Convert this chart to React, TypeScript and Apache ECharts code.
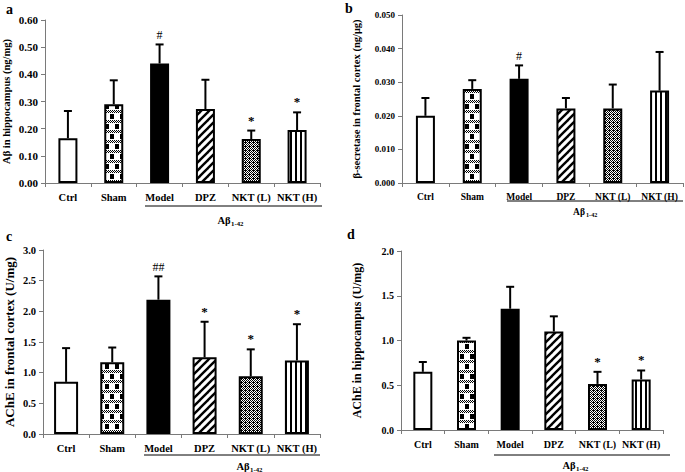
import React, { useEffect, useRef } from "react";
import * as echarts from "echarts";

const categories = ["Ctrl", "Sham", "Model", "DPZ", "NKT (L)", "NKT (H)"];

// Panel a: Aβ in hippocampus (ng/mg)
const abetaMean = [0.165, 0.29, 0.44, 0.272, 0.162, 0.195];
const abetaUpper = [0.265, 0.378, 0.51, 0.38, 0.193, 0.26];
const abetaMarks = ["", "", "#", "", "*", "*"];

// Panel b: β-secretase in frontal cortex (ng/μg)
const bsecMean = [0.02, 0.028, 0.031, 0.0222, 0.0222, 0.0275];
const bsecUpper = [0.0253, 0.0306, 0.035, 0.0253, 0.0293, 0.039];
const bsecMarks = ["", "", "#", "", "", ""];

// Panel c: AChE in frontal cortex (U/mg)
const acheFcMean = [0.85, 1.17, 2.19, 1.25, 0.94, 1.2];
const acheFcUpper = [1.4, 1.41, 2.57, 1.83, 1.38, 1.79];
const acheFcMarks = ["", "", "##", "*", "*", "*"];

// Panel d: AChE in hippocampus (U/mg)
const acheHpMean = [0.65, 1.0, 1.355, 1.1, 0.515, 0.565];
const acheHpUpper = [0.76, 1.03, 1.6, 1.27, 0.65, 0.665];
const acheHpMarks = ["", "", "", "", "*", "*"];

const SERIF = "'Liberation Serif', 'Times New Roman', serif";

function makeCanvas(w: number, h: number, draw: (ctx: CanvasRenderingContext2D) => void) {
  const c = document.createElement("canvas");
  c.width = w;
  c.height = h;
  const ctx = c.getContext("2d")!;
  ctx.fillStyle = "#fff";
  ctx.fillRect(0, 0, w, h);
  ctx.fillStyle = "#000";
  ctx.strokeStyle = "#000";
  draw(ctx);
  return c;
}

function buildPatterns() {
  const sham = makeCanvas(10, 20, (ctx) => {
    for (let y = 0; y < 20; y++) {
      for (let x = 0; x < 10; x++) {
        const band = y % 10 < 3;
        if (band) {
          if ((x + y) % 2 === 0) ctx.fillRect(x, y, 1, 1);
        } else {
          const row = Math.floor(y / 10);
          const inSq = row === 0 ? x >= 5 && x <= 8 && y % 10 >= 4 && y % 10 <= 8 : x >= 0 && x <= 3 && y % 10 >= 4 && y % 10 <= 8;
          if (inSq) ctx.fillRect(x, y, 1, 1);
        }
      }
    }
  });
  const dpz = makeCanvas(8, 8, (ctx) => {
    ctx.lineWidth = 2.4;
    for (const o of [-8, 0, 8]) {
      ctx.beginPath();
      ctx.moveTo(o - 1, 9);
      ctx.lineTo(o + 9, -1);
      ctx.stroke();
    }
  });
  const nktL = makeCanvas(4, 4, (ctx) => {
    for (let y = 0; y < 4; y++) {
      for (let x = 0; x < 4; x++) {
        if ((x + y) % 2 === 0 || (x === 1 && y === 2)) ctx.fillRect(x, y, 1, 1);
      }
    }
  });
  const nktH = makeCanvas(5, 4, (ctx) => {
    ctx.fillRect(0, 0, 2, 4);
  });
  return [
    "#ffffff",
    { image: sham, repeat: "repeat" },
    "#000000",
    { image: dpz, repeat: "repeat" },
    { image: nktL, repeat: "repeat" },
    { image: nktH, repeat: "repeat" },
  ];
}

type Panel = {
  mean: number[];
  upper: number[];
  marks: string[];
  max: number;
  interval: number;
  digits: number;
  name: string;
  grid: { left: number; top: number; width: number; height: number };
  barWidth: number;
  nameGap: number;
  nameFont: number;
  tickFont: number;
  catFont: number;
};

const panels: Panel[] = [
  {
    mean: abetaMean, upper: abetaUpper, marks: abetaMarks, max: 0.6, interval: 0.1, digits: 2,
    name: "Aβ in hippocampus (ng/mg)",
    grid: { left: 43, top: 20, width: 277, height: 163 }, barWidth: 19,
    nameGap: 33, nameFont: 10.5, tickFont: 11, catFont: 10.5,
  },
  {
    mean: bsecMean, upper: bsecUpper, marks: bsecMarks, max: 0.05, interval: 0.01, digits: 3,
    name: "β-secretase in frontal cortex (ng/μg)",
    grid: { left: 402, top: 15, width: 281, height: 168 }, barWidth: 19,
    nameGap: 40, nameFont: 10.5, tickFont: 9, catFont: 9.5,
  },
  {
    mean: acheFcMean, upper: acheFcUpper, marks: acheFcMarks, max: 3.0, interval: 0.5, digits: 1,
    name: "AChE in frontal cortex (U/mg)",
    grid: { left: 43, top: 250, width: 277, height: 184 }, barWidth: 24,
    nameGap: 27, nameFont: 13, tickFont: 10.5, catFont: 10.5,
  },
  {
    mean: acheHpMean, upper: acheHpUpper, marks: acheHpMarks, max: 2.0, interval: 0.5, digits: 1,
    name: "AChE in hippocampus (U/mg)",
    grid: { left: 401, top: 251, width: 262, height: 179 }, barWidth: 19,
    nameGap: 38, nameFont: 12, tickFont: 10, catFont: 10,
  },
];

export default function App() {
  const ref = useRef<HTMLDivElement>(null);
  useEffect(() => {
    if (!ref.current) return;
    const chart = echarts.init(ref.current, undefined, { renderer: "svg" });
    const fills = buildPatterns();
    const axisGray = "#7a7a7a";

    const grid: any[] = [];
    const xAxis: any[] = [];
    const yAxis: any[] = [];
    const series: any[] = [];

    panels.forEach((p, i) => {
      grid.push({ ...p.grid, containLabel: false });
      xAxis.push({
        type: "category",
        gridIndex: i,
        data: categories,
        axisLine: { lineStyle: { color: axisGray, width: 1 } },
        axisTick: { show: true, interval: 0, length: 4, lineStyle: { color: axisGray } },
        axisLabel: { interval: 0, color: "#000", fontFamily: SERIF, fontWeight: "bold", fontSize: p.catFont, margin: 9 },
      });
      yAxis.push({
        type: "value",
        gridIndex: i,
        min: 0,
        max: p.max,
        interval: p.interval,
        name: p.name,
        nameLocation: "middle",
        nameRotate: 90,
        nameGap: p.nameGap,
        nameTextStyle: { color: "#000", fontFamily: SERIF, fontWeight: "bold", fontSize: p.nameFont },
        splitLine: { show: false },
        axisLine: { show: true, lineStyle: { color: axisGray, width: 1 } },
        axisTick: { show: true, length: 4, lineStyle: { color: axisGray } },
        axisLabel: {
          color: "#000", fontFamily: SERIF, fontWeight: "bold", fontSize: p.tickFont, margin: 7,
          formatter: (v: number) => v.toFixed(p.digits),
        },
      });
      series.push({
        type: "bar",
        xAxisIndex: i,
        yAxisIndex: i,
        barWidth: p.barWidth,
        data: p.mean.map((v, k) => ({
          value: v,
          itemStyle: { color: fills[k] as any, borderColor: "#000", borderWidth: 2 },
        })),
      });
      const marks = p.marks;
      series.push({
        type: "custom",
        xAxisIndex: i,
        yAxisIndex: i,
        z: 5,
        data: p.mean.map((v, k) => [k, v, p.upper[k]]),
        encode: { x: 0, y: [1, 2] },
        renderItem: (params: any, api: any) => {
          const base = api.coord([api.value(0), api.value(1)]);
          const top = api.coord([api.value(0), api.value(2)]);
          const x = base[0];
          const children: any[] = [
            { type: "line", shape: { x1: x, y1: base[1], x2: x, y2: top[1] }, style: { stroke: "#000", lineWidth: 2 } },
            { type: "line", shape: { x1: x - 4, y1: top[1], x2: x + 4, y2: top[1] }, style: { stroke: "#000", lineWidth: 2 } },
          ];
          const m = marks[params.dataIndex];
          if (m) {
            const hash = m.startsWith("#");
            children.push({
              type: "text",
              style: {
                text: m, x, y: top[1] - (hash ? 3 : 4),
                align: "center", verticalAlign: "bottom",
                fill: "#000", font: `${hash ? "normal" : "bold"} ${hash ? 12 : 13}px ${SERIF}`,
              },
            });
          }
          return { type: "group", children };
        },
      });
    });

    const letter = (t: string, x: number, y: number) => ({
      type: "text", left: x, top: y,
      style: { text: t, fill: "#000", font: `bold 14px ${SERIF}` },
    });
    const underline = (x1: number, x2: number, y: number) => ({
      type: "line", shape: { x1, y1: y, x2, y2: y }, style: { stroke: "#000", lineWidth: 1 },
    });
    const abLabel = (cx: number, y: number, fs: number) => ({
      type: "group",
      children: [
        { type: "text", x: cx - 8, y, style: { text: "Aβ", fill: "#000", font: `bold ${fs}px ${SERIF}`, align: "center", verticalAlign: "middle" } },
        { type: "text", x: cx - 1, y: y + 3, style: { text: "1-42", fill: "#000", font: `bold ${fs * 0.65}px ${SERIF}`, align: "left", verticalAlign: "middle" } },
      ],
    });

    chart.setOption({
      animation: false,
      backgroundColor: "#fff",
      grid,
      xAxis,
      yAxis,
      series,
      graphic: [
        letter("a", 6, 2),
        letter("b", 345, 1),
        letter("c", 6, 229),
        letter("d", 347, 227),
        underline(145, 322, 206),
        underline(507, 683, 201),
        underline(144, 320, 455),
        underline(494, 670, 455),
        abLabel(232, 220, 10.5),
        abLabel(587, 212, 9.5),
        abLabel(251, 466, 10.5),
        abLabel(577, 465, 10.5),
      ],
    });
    return () => chart.dispose();
  }, []);
  return <div ref={ref} style={{ position: "fixed", left: 0, top: 0, width: 685, height: 472, background: "#fff" }} />;
}
